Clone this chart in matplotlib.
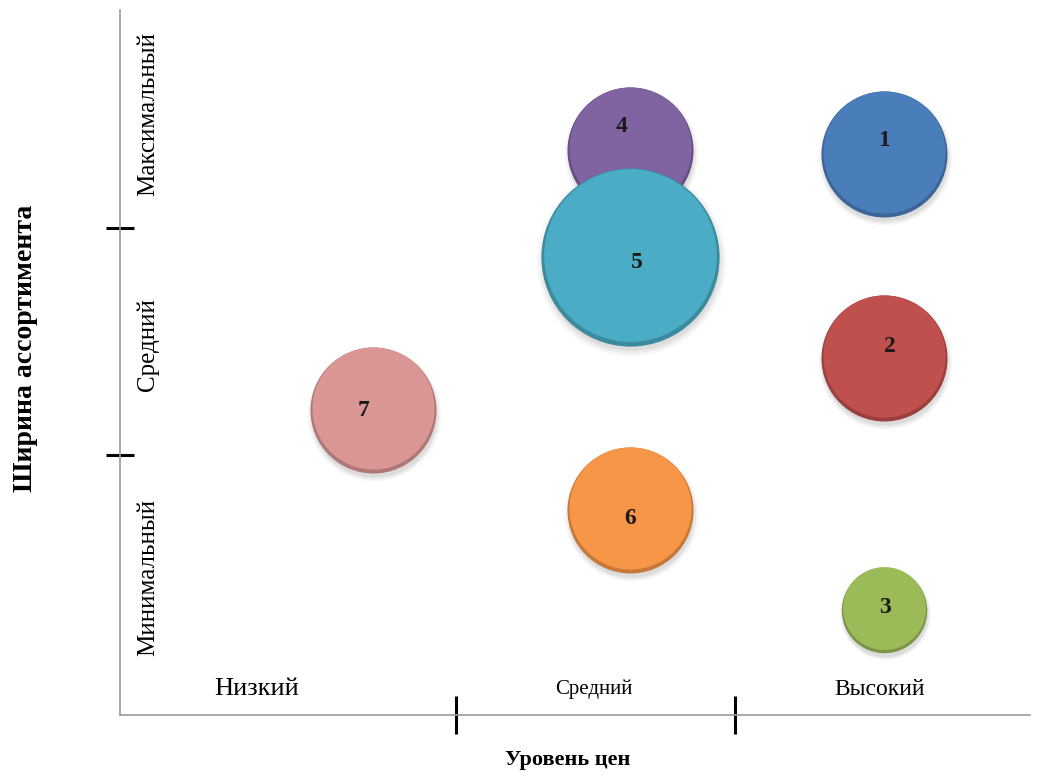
import numpy as np
import matplotlib.pyplot as plt
from matplotlib import transforms
from matplotlib.colors import to_rgb

plt.rcParams['font.family'] = ['Liberation Serif', 'DejaVu Serif']

# bubble data: id, price level (x), assortment width (y), bubble size
ids = ['1', '2', '3', '4', '5', '6', '7']
price = [7.64, 7.64, 7.64, 5.10, 5.10, 5.10, 2.53]
width = [5.61, 3.57, 1.05, 5.65, 4.58, 2.05, 3.05]
size = [10, 10, 4.6, 10, 20, 10, 10]
colors = ['#4a7ebb', '#c0504d', '#9bbb59', '#8064a2', '#4bacc6', '#f79646', '#d99694']
# number label nudges, in points
label_dx = [0, 4, 1, -6, 5, 0, -7]
label_dy = [10, 8, 2, 17, -4, -6, 0]

x_levels = ['Низкий', 'Средний', 'Высокий']
x_level_pos = [1.37, 4.74, 7.60]
x_level_fs = [19, 15, 17]
x_bounds = [3.36, 6.15]

y_levels = ['Минимальный', 'Средний', 'Максимальный']
y_level_pos = [1.38, 3.70, 6.01]
y_bounds = [2.60, 4.87]


def shade(c, k):
    r, g, b = to_rgb(c)
    return (r * k, g * k, b * k)


fig = plt.figure(figsize=(10.47, 7.76), dpi=100)
ax = fig.add_axes([0.1146, 0.0786, 0.8692, 0.9084])
ax.set_xlim(0, 9.1)
ax.set_ylim(0, 7.05)

base = 8230.0 / 10.0
shadow_tr = transforms.offset_copy(ax.transData, fig=fig, x=1, y=-4, units='dots')
top_tr = transforms.offset_copy(ax.transData, fig=fig, x=0, y=2, units='dots')

for i in range(len(ids)):
    s = base * size[i]
    x, y = price[i], width[i]
    # soft drop shadow
    for k, a in [(1.06, 0.05), (1.03, 0.07), (1.0, 0.09)]:
        ax.scatter([x], [y], s=s * k * k, color='#555555', alpha=a, lw=0,
                   transform=shadow_tr, zorder=2 + i * 0.1)
    # darker rim, then face, then lighter top
    ax.scatter([x], [y], s=s, color=shade(colors[i], 0.8), lw=0, zorder=3 + i * 0.1)
    ax.scatter([x], [y], s=s * 0.94, color=colors[i], lw=0,
               transform=top_tr, zorder=3.02 + i * 0.1)
    ax.annotate(ids[i], (x, y), xytext=(label_dx[i], label_dy[i]),
                textcoords='offset points', ha='center', va='center',
                fontsize=17, fontweight='bold', color='#1a1a1a',
                zorder=3.05 + i * 0.1)

for name, px, fs in zip(x_levels, x_level_pos, x_level_fs):
    ax.text(px, 0.26, name, ha='center', va='center', fontsize=fs)
for name, py in zip(y_levels, y_level_pos):
    ax.text(0.28, py, name, ha='center', va='center', fontsize=18, rotation=90)

ax.set_xticks(x_bounds)
ax.set_yticks(y_bounds)
ax.set_xticklabels([])
ax.set_yticklabels([])
ax.tick_params(axis='x', direction='inout', length=27, width=2.2, color='black')
ax.tick_params(axis='y', direction='inout', length=20, width=2.2, color='black')

for side in ['top', 'right']:
    ax.spines[side].set_visible(False)
for side in ['left', 'bottom']:
    ax.spines[side].set_color('#9a9a9a')
    ax.spines[side].set_linewidth(1.2)

fig.text(568 / 1047, 1 - 760 / 776, 'Уровень цен', ha='center', va='center',
         fontsize=16, fontweight='bold')
fig.text(26 / 1047, 1 - 348 / 776, 'Ширина ассортимента', ha='center', va='center',
         fontsize=20, fontweight='bold', rotation=90)

fig.savefig('out.png', dpi=100)
